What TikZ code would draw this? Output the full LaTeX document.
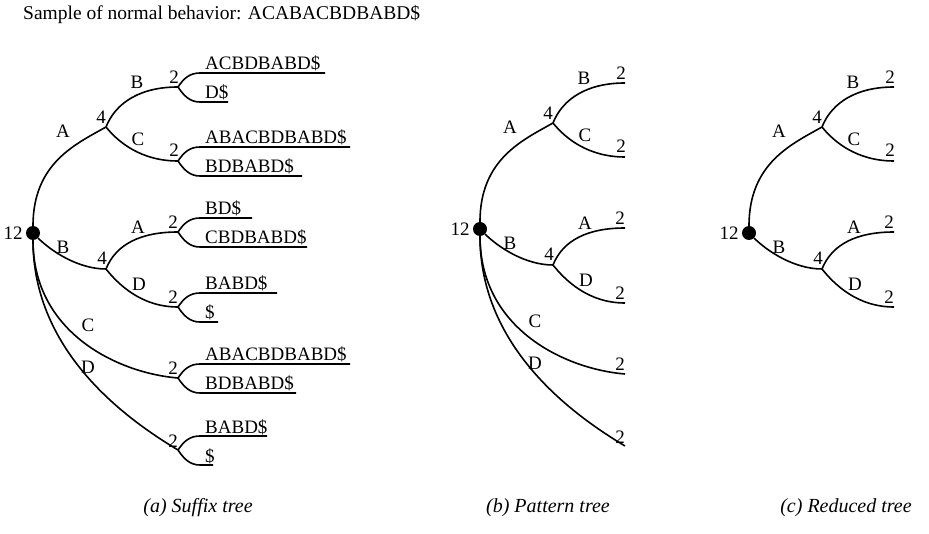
\documentclass[tikz,border=0pt]{standalone}
\usepackage{fontspec}
\setmainfont{Liberation Serif}

% Common part of every tree: root, the two 4-nodes and their four 2-leaves.
\newcommand\treecore[1]{%
  \node[rootdot] (#1r) at (33,233) {};
  \node[lab, anchor=east] (#1n12) at ([xshift=-3pt]#1r.west) {12};
  \coordinate (#1u) at (106,127);
  \coordinate (#1l) at (106,269);
  \coordinate (#1j1) at (178,87);
  \coordinate (#1j2) at (178,161);
  \coordinate (#1j3) at (178,232);
  \coordinate (#1j4) at (178,307);
  \draw[edge] (#1r) .. controls +(0,-70) and +(-30,17) .. (#1u);
  \draw[edge] (#1r) .. controls +(18,18) and +(-28,0) .. (#1l);
  \draw[edge] (#1u) .. controls +(10,-25) and +(-37,0) .. (#1j1);
  \draw[edge] (#1u) .. controls +(12,15) and +(-37,0) .. (#1j2);
  \draw[edge] (#1l) .. controls +(10,-25) and +(-37,0) .. (#1j3);
  \draw[edge] (#1l) .. controls +(12,15) and +(-37,0) .. (#1j4);
  \node[lab] (#1eA) at (63,131) {A};
  \node[lab] (#1n4u) at (101,117) {4};
  \node[lab] (#1eAB) at (137,82) {B};
  \node[lab] (#1n2a) at (174,77) {2};
  \node[lab] (#1eAC) at (138,139) {C};
  \node[lab] (#1n2b) at (174,150) {2};
  \node[lab] (#1eB) at (63,247) {B};
  \node[lab] (#1n4l) at (102,258) {4};
  \node[lab] (#1eBA) at (138,227) {A};
  \node[lab] (#1n2c) at (173,222) {2};
  \node[lab] (#1eBD) at (139,284) {D};
  \node[lab] (#1n2d) at (173,297) {2};
}

% The two long edges C and D leaving the root downwards.
\newcommand\treelong[1]{%
  \coordinate (#1j5) at (178,378);
  \coordinate (#1j6) at (178,450);
  \draw[edge] (#1r) .. controls +(0,100) and +(-60,-5) .. (#1j5);
  \draw[edge] (#1r) .. controls +(0,120) and +(-50,-30) .. (#1j6);
  \node[lab] (#1eC) at (88,325) {C};
  \node[lab] (#1n2e) at (173,368) {2};
  \node[lab] (#1eD) at (88,367) {D};
  \node[lab] (#1n2f) at (173,441) {2};
}

% Fork at a 2-leaf into two underlined suffixes.
% #1 junction, #2 its y, #3/#4 upper suffix and line end, #5/#6 lower suffix and line end
\newcommand\suffixfork[6]{%
  \coordinate (#1hi) at (200,#2-14);
  \coordinate (#1lo) at (200,#2+15);
  \coordinate (#1he) at (#4,#2-14);
  \coordinate (#1le) at (#6,#2+15);
  \node[suffix] (#1ht) at (205,#2-17) {#3};
  \node[suffix] (#1lt) at (205,#2+12) {#5};
  \draw[edge] (#1) .. controls +(6,-9) and +(-10,0) .. (#1hi) -- (#1he);
  \draw[edge] (#1) .. controls +(6,9) and +(-10,0) .. (#1lo) -- (#1le);
}

\begin{document}
\begin{tikzpicture}[x=1pt,y=-1pt,
  edge/.style={line width=1.6pt},
  lab/.style={font=\fontsize{19}{19}\selectfont, inner sep=0pt},
  suffix/.style={lab, anchor=base west},
  rootdot/.style={circle, fill=black, minimum size=14pt, inner sep=0pt},
  caption/.style={font=\fontsize{20}{20}\selectfont\itshape, inner sep=0pt},
]
\useasboundingbox (0,0) rectangle (929,534);

\node[lab, font=\fontsize{19.5}{19.5}\selectfont, anchor=base west] (title) at (23,20) {Sample of normal behavior: ACABACBDBABD\$};

% (a) suffix tree
\begin{scope}
  \treecore{a}
  \treelong{a}
  \suffixfork{aj1}{87}{ACBDBABD\$}{325}{D\$}{228}
  \suffixfork{aj2}{161}{ABACBDBABD\$}{350}{BDBABD\$}{302}
  \suffixfork{aj3}{232}{BD\$}{252}{CBDBABD\$}{307}
  \suffixfork{aj4}{307}{BABD\$}{277}{\$}{218}
  \suffixfork{aj5}{378}{ABACBDBABD\$}{350}{BDBABD\$}{296}
  \suffixfork{aj6}{450}{BABD\$}{267}{\$}{213}
\end{scope}

% (b) pattern tree
\begin{scope}[shift={(447,-4)}]
  \treecore{b}
  \treelong{b}
\end{scope}

% (c) reduced tree
\begin{scope}[shift={(716,0)}]
  \treecore{c}
\end{scope}

\node[caption] (capa) at (198,508) {(a) Suffix tree};
\node[caption] (capb) at (548,508) {(b) Pattern tree};
\node[caption] (capc) at (846,508) {(c) Reduced tree};
\end{tikzpicture}
\end{document}
